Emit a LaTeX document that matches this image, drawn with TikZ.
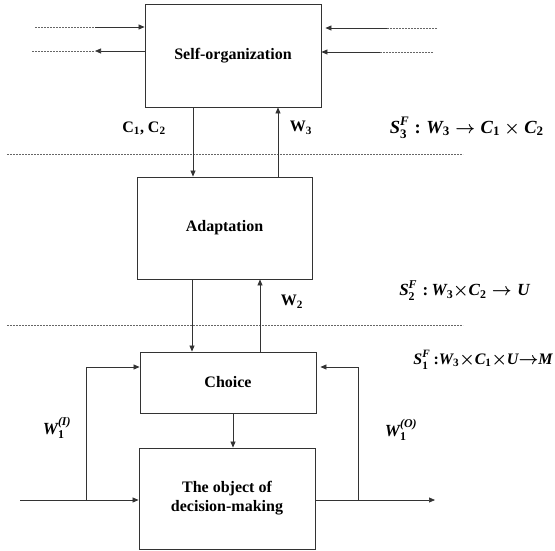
\documentclass[tikz,border=0pt]{standalone}
\usepackage{amsmath}
\usepackage{fontspec}
\setmainfont{Liberation Serif}
\usetikzlibrary{arrows.meta}
% bold italic variable and bold upright index inside formulas
\newcommand\bv[1]{\text{\bfseries\itshape #1}}
\newcommand\bn[1]{\text{\bfseries #1}}
\begin{document}
\begin{tikzpicture}[x=1pt,y=-1pt,
  line width=0.7pt,
  box/.style={draw=black!80,line width=0.9pt,font=\fontsize{16}{19}\selectfont\bfseries,align=center,inner sep=0pt},
  conn/.style={draw=black!80},
  arr/.style={conn,-{Triangle[length=6pt,width=5pt]}},
  faint/.style={draw=black!60,dash pattern=on 2pt off 1pt,line width=0.6pt},
  lbl/.style={font=\fontsize{16}{19}\selectfont\bfseries},
  mlbl/.style={font=\fontsize{17}{20}\selectfont\boldmath,inner sep=0pt}]
\useasboundingbox (0,0) rectangle (555,551);

% blocks
\node[box,minimum width=176pt,minimum height=103pt] (so) at (233,55.5) {Self-organization};
\node[box,minimum width=175pt,minimum height=102pt] (ad) at (224.5,228) {Adaptation};
\node[box,minimum width=176pt,minimum height=61pt] (ch) at (228,382.5) {Choice};
\node[box,minimum width=176pt,minimum height=101pt] (ob) at (227,498.5) {The object of\\decision-making};

% level separators
\coordinate (s1a) at (7,154);   \coordinate (s1b) at (463,154);
\coordinate (s2a) at (7,325);   \coordinate (s2b) at (463,325);
\draw[faint] (s1a) -- (s1b);
\draw[faint] (s2a) -- (s2b);

% external links of the self-organization block
\coordinate (l1d) at (35,27);  \coordinate (l1s) at (95,27);
\coordinate (l2d) at (32,51);  \coordinate (l2s) at (95,51);
\coordinate (r1d) at (437,28); \coordinate (r1s) at (387,28);
\coordinate (r2d) at (433,52); \coordinate (r2s) at (380,52);
\draw[faint] (l1d) -- (l1s);
\draw[arr] (l1s) -- (l1s -| so.west);
\draw[faint] (l2d) -- (l2s);
\draw[arr] (l2s -| so.west) -- (l2s);
\draw[faint] (r1d) -- (r1s);
\draw[arr] (r1s) -- ([xshift=4pt]r1s -| so.east);
\draw[faint] (r2d) -- (r2s);
\draw[arr] (r2s) -- (r2s -| so.east);

% vertical links between levels
\coordinate (xa) at (193,0); \coordinate (xb) at (278,0);
\coordinate (xc) at (192,0); \coordinate (xd) at (260,0);
\coordinate (xe) at (233,0);
\draw[arr] (so.south -| xa) -- (ad.north -| xa);
\draw[arr] (ad.north -| xb) -- (so.south -| xb);
\draw[arr] (ad.south -| xc) -- (ch.north -| xc);
\draw[arr] (ch.north -| xd) -- (ad.south -| xd);
\draw[arr] (ch.south -| xe) -- (ob.north -| xe);

% input and output of the object
\coordinate (in) at (20,500);  \coordinate (bi) at (86,500);
\coordinate (out) at (435,500); \coordinate (bo) at (358,500);
\draw[arr] (in) -- (in -| ob.west);
\draw[arr] (ob.east |- out) -- (out);
\coordinate (ty) at (0,367);
\draw[arr] (bi) -- (bi |- ty) -- (ch.west |- ty);
\draw[arr] (bo) -- (bo |- ty) -- ([xshift=4pt]ch.east |- ty);

% labels
\node[lbl] (c12) at (144,128) {C\textsubscript{1}, C\textsubscript{2}};
\node[lbl] (w3) at (301,128) {W\textsubscript{3}};
\node[lbl] (w2) at (292,302) {W\textsubscript{2}};
\node[mlbl,anchor=east,font=\fontsize{18.5}{22}\selectfont\boldmath] (f3) at (544,128) {$\bv{S}_{\bn{3}}^{\bv{F}}\;\bn{:}\;\bv{W}_{\bn{3}}\to\bv{C}_{\bn{1}}\times\bv{C}_{\bn{2}}$};
\node[mlbl,anchor=east] (f2) at (530,291) {$\bv{S}_{\bn{2}}^{\bv{F}}\;\bn{:}\,\bv{W}_{\bn{3}}{\times}\bv{C}_{\bn{2}}\to\bv{U}$};
\node[mlbl,anchor=east,font=\fontsize{16}{19}\selectfont\boldmath] (f1) at (553,360) {$\bv{S}_{\bn{1}}^{\bv{F}}\,\bn{:}\bv{W}_{\bn{3}}{\times}\bv{C}_{\bn{1}}{\times}\bv{U}{\to}\bv{M}$};
\node[mlbl] (wi) at (57,428) {$\bv{W}_{\bn{1}}^{\bv{(I)}}$};
\node[mlbl] (wo) at (401,430) {$\bv{W}_{\bn{1}}^{\bv{(O)}}$};
\end{tikzpicture}
\end{document}
